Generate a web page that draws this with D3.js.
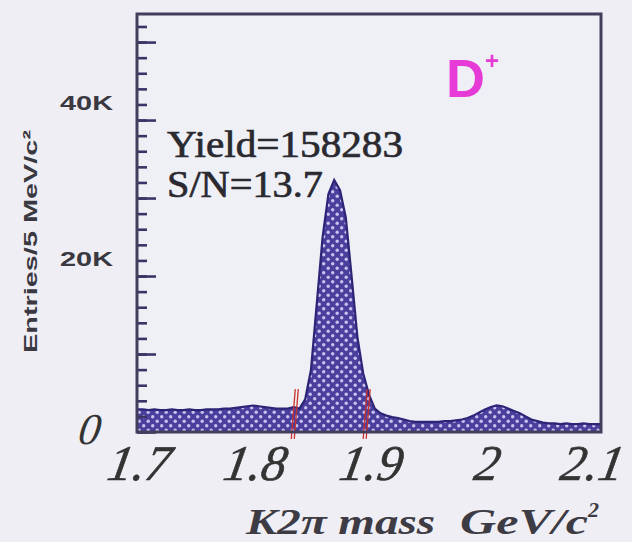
<!DOCTYPE html>
<html>
<head>
<meta charset="utf-8">
<script src="https://cdn.jsdelivr.net/npm/d3@7"></script>
<style>
  body { margin: 0; background: #efeef4; }
  svg { display: block; }
</style>
</head>
<body>
<div id="chart"></div>
<script>
// K2pi invariant mass, one point every 5 MeV (GeV/c^2)
var mass = d3.range(81).map(function(i) { return 1.7 + i * 0.005; });
// entries per 5 MeV/c^2, in thousands
var entries = [
  2.9, 2.9, 2.8, 2.9, 2.8, 2.8, 2.9, 2.8, 2.8, 2.9,
  2.8, 2.8, 2.9, 2.9, 2.9, 3.0, 3.0, 3.1, 3.2, 3.3,
  3.4, 3.3, 3.2, 3.1, 3.0, 3.0, 3.0, 3.2, 3.0, 4.2,
  8.0, 16.5, 25.0, 30.5, 32.3, 31.0, 27.5, 20.0, 12.2, 7.5,
  4.8, 3.0, 2.4, 2.1, 1.9, 1.8, 1.6, 1.4, 1.3, 1.3,
  1.3, 1.3, 1.3, 1.4, 1.4, 1.5, 1.6, 1.8, 2.1, 2.5,
  2.9, 3.2, 3.4, 3.3, 3.0, 2.7, 2.4, 2.0, 1.6, 1.4,
  1.2, 1.1, 1.1, 1.0, 1.1, 1.0, 1.0, 1.1, 1.0, 1.0,
  1.0
];
var xTicks = [1.7, 1.8, 1.9, 2, 2.1];
var yLabels = [20, 40];
var signalWindow = [1.836, 1.898];

var W = 632, H = 542;
var margin = {top: 14, right: 31, bottom: 110, left: 137};
var width = W - margin.left - margin.right,
    height = H - margin.top - margin.bottom;

var svg = d3.select("#chart").append("svg")
  .attr("width", W)
  .attr("height", H);

var defs = svg.append("defs");
var pat = defs.append("pattern")
  .attr("id", "hatch")
  .attr("patternUnits", "userSpaceOnUse")
  .attr("width", 9).attr("height", 9);
pat.append("rect").attr("width", 9).attr("height", 9).attr("fill", "#4a3f9c");
pat.append("circle").attr("cx", 2.2).attr("cy", 2.2).attr("r", 1.7).attr("fill", "#c8c2ee");
pat.append("circle").attr("cx", 6.7).attr("cy", 6.7).attr("r", 1.7).attr("fill", "#c8c2ee");

var g = svg.append("g")
  .attr("transform", "translate(" + margin.left + "," + margin.top + ")");

var x = d3.scaleLinear().domain([1.7, 2.1]).range([0, width]);
var y = d3.scaleLinear().domain([0, 53.6]).range([height, 0]);

g.append("rect")
  .attr("width", width).attr("height", height)
  .attr("fill", "#eff0f6");

var pts = mass.map(function(m, i) { return [m, entries[i]]; });

// filled histogram
g.append("path")
  .datum(pts)
  .attr("fill", "url(#hatch)")
  .attr("d", d3.area()
    .x(function(d) { return x(d[0]); })
    .y0(y(0))
    .y1(function(d) { return y(d[1]); }));

g.append("path")
  .datum(pts)
  .attr("fill", "none")
  .attr("stroke", "#2c2577")
  .attr("stroke-width", 2.2)
  .attr("d", d3.line()
    .x(function(d) { return x(d[0]); })
    .y(function(d) { return y(d[1]); }));

// red signal window marks
signalWindow.forEach(function(m) {
  [-1.5, 1.5].forEach(function(off) {
    g.append("line")
      .attr("x1", x(m) + off + 2).attr("y1", y(5.5))
      .attr("x2", x(m) + off - 2).attr("y2", y(0) + 7)
      .attr("stroke", "#c9302c")
      .attr("stroke-width", 1.3);
  });
});

// y ticks inside the frame
var minorAxis = d3.axisRight(y)
  .tickValues(d3.range(0, 54, 2))
  .tickSize(10).tickFormat("");
var majorAxis = d3.axisRight(y)
  .tickValues(d3.range(0, 54, 10))
  .tickSize(19).tickFormat("");
[minorAxis, majorAxis].forEach(function(ax) {
  var a = g.append("g").call(ax);
  a.select(".domain").remove();
  a.selectAll("line").attr("stroke", "#3a3566").attr("stroke-width", 2.6);
});

// frame
g.append("rect")
  .attr("width", width).attr("height", height)
  .attr("fill", "none")
  .attr("stroke", "#423e5c")
  .attr("stroke-width", 3);

// x tick labels (last one nudged in so it stays on the page)
g.selectAll(".xlab")
  .data(xTicks)
  .enter().append("text")
  .attr("transform", function(d, i) {
    var dx = i === xTicks.length - 1 ? -11 : 0;
    return "translate(" + (x(d) + dx) + "," + (height + 48) + ") skewX(-10)";
  })
  .attr("text-anchor", "middle")
  .style("font-family", "'Liberation Serif', serif")
  .style("font-style", "italic")
  .style("font-size", "50px")
  .attr("fill", "#333")
  .attr("stroke", "#333")
  .attr("stroke-width", 0.6)
  .text(function(d) { return d; });

// y labels
g.selectAll(".ylab")
  .data(yLabels)
  .enter().append("text")
  .attr("x", -77)
  .attr("y", function(d) { return y(d); })
  .attr("dy", "-10")
  .style("font-family", "'Liberation Sans', Arial, sans-serif")
  .style("font-weight", "bold")
  .style("font-size", "21px")
  .attr("textLength", 53)
  .attr("lengthAdjust", "spacingAndGlyphs")
  .attr("fill", "#3a3840")
  .text(function(d) { return d + "K"; });

g.append("text")
  .attr("transform", "translate(" + (-38) + "," + (y(0) + 12) + ") skewX(-8)")
  .attr("text-anchor", "end")
  .style("font-family", "'Liberation Serif', serif")
  .style("font-style", "italic")
  .style("font-size", "44px")
  .attr("fill", "#333")
  .text("0");

// y axis title
svg.append("text")
  .attr("transform", "translate(37,353) rotate(-90)")
  .style("font-family", "'Liberation Sans', Arial, sans-serif")
  .style("font-weight", "bold")
  .style("font-size", "19px")
  .attr("textLength", 223)
  .attr("lengthAdjust", "spacingAndGlyphs")
  .attr("fill", "#3a3840")
  .text("Entries/5 MeV/c\u00b2");

// x axis title
var xt = svg.append("text")
  .attr("y", 534)
  .style("font-family", "'Liberation Serif', serif")
  .style("font-style", "italic")
  .style("font-weight", "bold")
  .style("font-size", "36px")
  .attr("fill", "#3d3b44");
xt.append("tspan").attr("x", 246).attr("textLength", 189)
  .attr("lengthAdjust", "spacingAndGlyphs").text("K2\u03c0 mass");
xt.append("tspan").attr("x", 460).attr("textLength", 128)
  .attr("lengthAdjust", "spacingAndGlyphs").text("GeV/c");
xt.append("tspan").attr("dy", -17).style("font-size", "22px").text("2");

// annotations
var ann = svg.append("text")
  .style("font-family", "'Liberation Serif', serif")
  .style("font-size", "38px")
  .attr("fill", "#2a2930")
  .attr("stroke", "#2a2930")
  .attr("stroke-width", 0.7);
ann.append("tspan").attr("x", 167).attr("y", 157).attr("textLength", 236)
  .attr("lengthAdjust", "spacingAndGlyphs").text("Yield=158283");
ann.append("tspan").attr("x", 167).attr("y", 197).attr("textLength", 156)
  .attr("lengthAdjust", "spacingAndGlyphs").text("S/N=13.7");

var dp = svg.append("text")
  .attr("x", 446).attr("y", 97)
  .style("font-family", "'Liberation Sans', Arial, sans-serif")
  .style("font-weight", "bold")
  .style("font-size", "54px")
  .attr("fill", "#e63bd6");
dp.append("tspan").text("D");
dp.append("tspan").attr("dy", -28).style("font-size", "24px").text("+");
</script>
</body>
</html>
